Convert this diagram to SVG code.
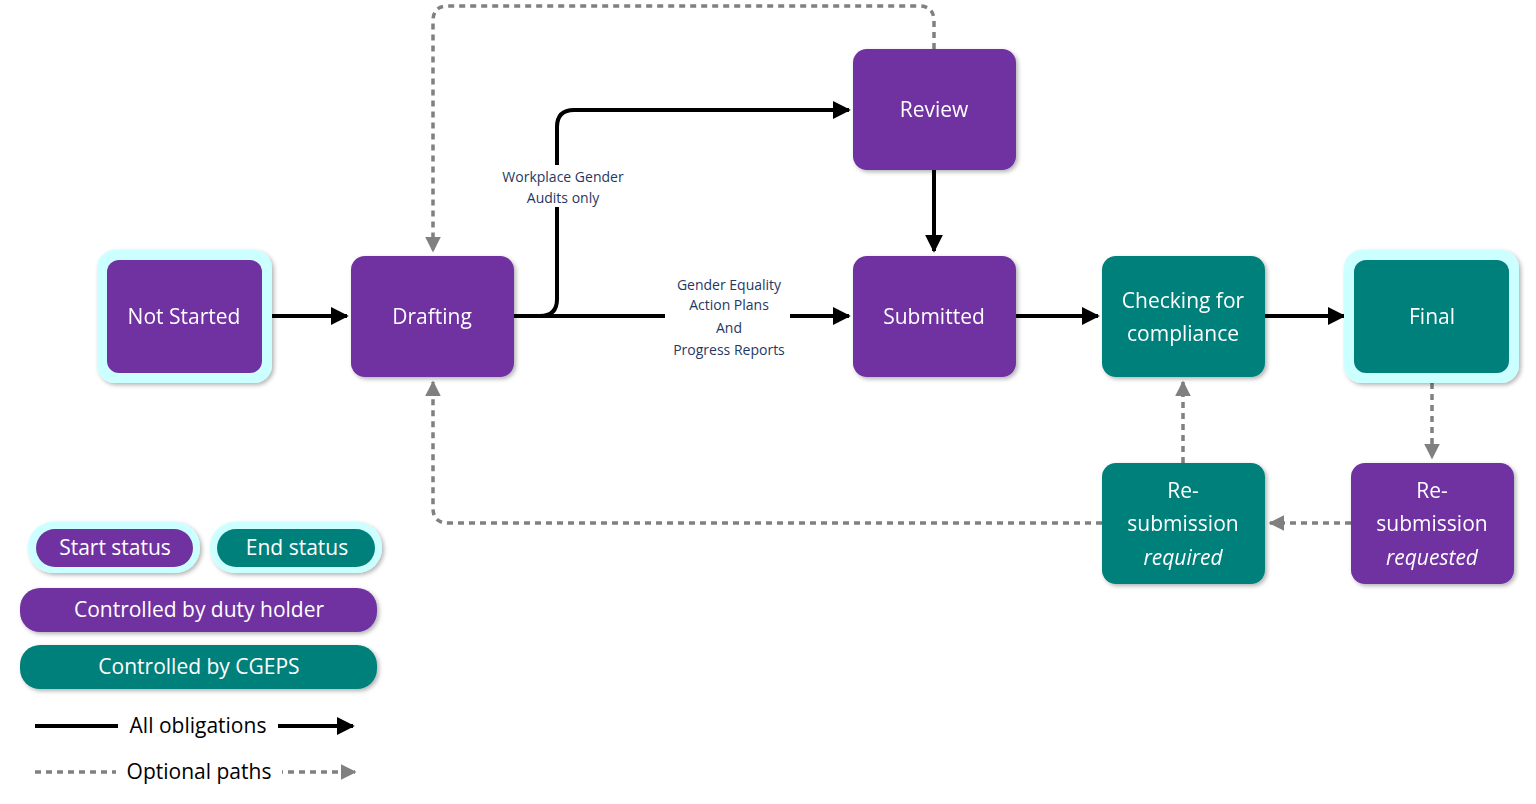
<svg xmlns="http://www.w3.org/2000/svg" width="1536" height="804" viewBox="0 0 1536 804">
<defs>
<filter id="sh" x="-10%" y="-10%" width="130%" height="130%"><feDropShadow dx="2" dy="2" stdDeviation="2" flood-color="#000" flood-opacity="0.3"/></filter>
<marker id="ab" viewBox="0 0 10 10" refX="9" refY="5" markerWidth="4.5" markerHeight="4.5" orient="auto"><path d="M0,0 L10,5 L0,10 z" fill="#000"/></marker>
<marker id="ag" viewBox="0 0 10 10" refX="9" refY="5" markerWidth="4.5" markerHeight="4.5" orient="auto"><path d="M0,0 L10,5 L0,10 z" fill="#808080"/></marker>
</defs>
<style>
.p{fill:#7030A0}.t{fill:#00807A}.o{fill:#CCFFFF}
.n{font-family:"Open Sans","DejaVu Sans",sans-serif;font-size:21px;fill:#fff;text-anchor:middle}
.i{font-style:italic}
.s{font-family:"Open Sans","DejaVu Sans",sans-serif;font-size:14px;fill:#1F3864;text-anchor:middle}
.l{font-family:"Open Sans","DejaVu Sans",sans-serif;font-size:21px;fill:#000;text-anchor:middle}
.k{fill:none;stroke:#000;stroke-width:4}
.d{fill:none;stroke:#808080;stroke-width:3.5;stroke-dasharray:6 5}
</style>
<rect width="1536" height="804" fill="#fff"/>
<g id="connectors">
<path class="k" d="M264,316 H347" marker-end="url(#ab)"/>
<path class="k" d="M514,316 H665 M790,316 H849" marker-end="url(#ab)"/>
<path class="k" d="M514,316 H540 Q557,316 557,299 V127 Q557,110 574,110 H849" marker-end="url(#ab)"/>
<path class="k" d="M934,170 V251" marker-end="url(#ab)"/>
<path class="k" d="M1016,316 H1098" marker-end="url(#ab)"/>
<path class="k" d="M1265,316 H1344" marker-end="url(#ab)"/>
<path class="d" d="M1432,383 V458" marker-end="url(#ag)"/>
<path class="d" d="M1351,523 H1270" marker-end="url(#ag)"/>
<path class="d" d="M1183,463 V382" marker-end="url(#ag)"/>
<path class="d" d="M1102,523 H448 Q433,523 433,508 V382" marker-end="url(#ag)"/>
<path class="d" d="M934,49 V21 Q934,6 919,6 H448 Q433,6 433,21 V251" marker-end="url(#ag)"/>
<rect x="490" y="165" width="146" height="42" fill="#fff"/>
<text class="s" x="563" y="182">Workplace Gender</text>
<text class="s" x="563" y="203">Audits only</text>
<text class="s" x="729" y="290">Gender Equality</text>
<text class="s" x="729" y="310">Action Plans</text>
<text class="s" x="729" y="333">And</text>
<text class="s" x="729" y="355">Progress Reports</text>
</g>
<g id="not-started" filter="url(#sh)"><rect class="o" x="97" y="250" width="175" height="133" rx="18"/><rect class="p" x="107" y="260" width="155" height="113" rx="12"/><text class="n" x="184" y="324">Not Started</text></g>
<g id="drafting" filter="url(#sh)"><rect class="p" x="351" y="256" width="163" height="121" rx="14"/><text class="n" x="432" y="324">Drafting</text></g>
<g id="review" filter="url(#sh)"><rect class="p" x="853" y="49" width="163" height="121" rx="14"/><text class="n" x="934" y="117">Review</text></g>
<g id="submitted" filter="url(#sh)"><rect class="p" x="853" y="256" width="163" height="121" rx="14"/><text class="n" x="934" y="324">Submitted</text></g>
<g id="checking" filter="url(#sh)"><rect class="t" x="1102" y="256" width="163" height="121" rx="14"/><text class="n" x="1183" y="308">Checking for</text><text class="n" x="1183" y="341">compliance</text></g>
<g id="final" filter="url(#sh)"><rect class="o" x="1344" y="250" width="175" height="133" rx="18"/><rect class="t" x="1354" y="260" width="155" height="113" rx="12"/><text class="n" x="1432" y="324">Final</text></g>
<g id="resub-required" filter="url(#sh)"><rect class="t" x="1102" y="463" width="163" height="121" rx="14"/><text class="n" x="1183" y="498">Re-</text><text class="n" x="1183" y="531">submission</text><text class="n i" x="1183" y="565">required</text></g>
<g id="resub-requested" filter="url(#sh)"><rect class="p" x="1351" y="463" width="163" height="121" rx="14"/><text class="n" x="1432" y="498">Re-</text><text class="n" x="1432" y="531">submission</text><text class="n i" x="1432" y="565">requested</text></g>
<g id="legend">
<g filter="url(#sh)"><rect class="o" x="28" y="522" width="172" height="51" rx="25"/><rect class="p" x="36" y="529" width="157" height="38" rx="19"/></g>
<text class="n" x="115" y="555">Start status</text>
<g filter="url(#sh)"><rect class="o" x="210" y="522" width="172" height="51" rx="25"/><rect class="t" x="217" y="529" width="158" height="38" rx="19"/></g>
<text class="n" x="297" y="555">End status</text>
<rect class="p" x="20" y="588" width="357" height="44" rx="20" filter="url(#sh)"/>
<text class="n" x="199" y="617">Controlled by duty holder</text>
<rect class="t" x="20" y="645" width="357" height="44" rx="20" filter="url(#sh)"/>
<text class="n" x="199" y="674">Controlled by CGEPS</text>
<path class="k" d="M35,726 H353" marker-end="url(#ab)"/>
<rect x="118" y="712" width="160" height="28" fill="#fff"/>
<text class="l" x="198" y="733">All obligations</text>
<path class="d" d="M35,772 H355" marker-end="url(#ag)"/>
<rect x="116" y="758" width="166" height="28" fill="#fff"/>
<text class="l" x="199" y="779">Optional paths</text>
</g>
</svg>
